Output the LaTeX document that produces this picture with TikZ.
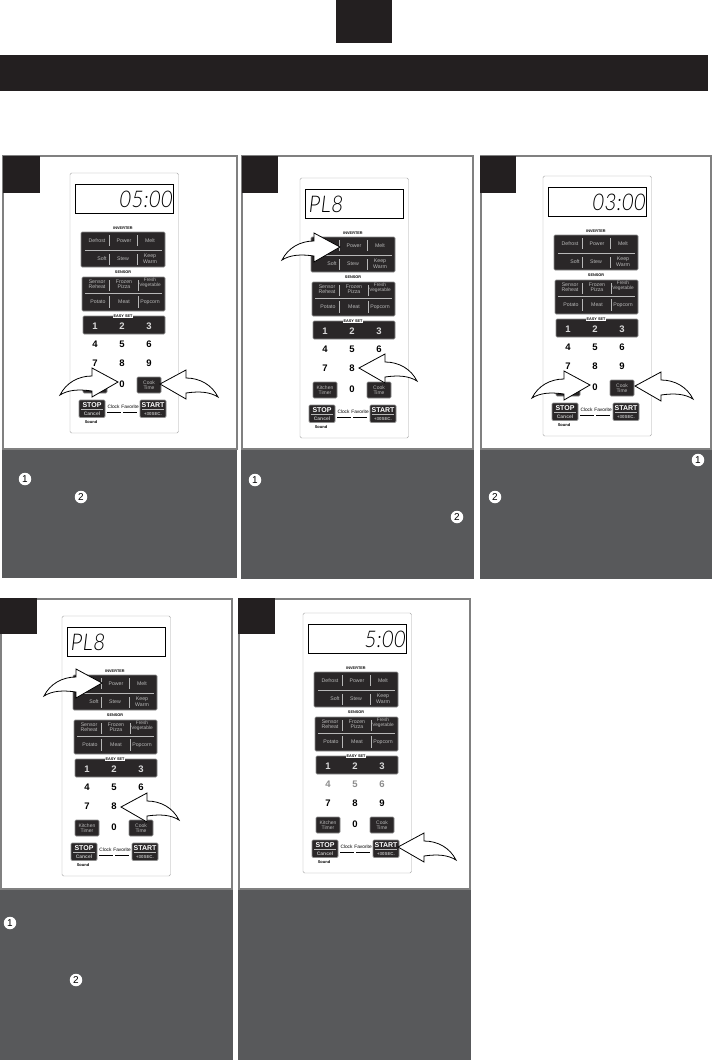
\documentclass[tikz,border=0pt]{standalone}
\usepackage{fontspec}
\setmainfont{Liberation Sans}
\newfontfamily\segfont[FakeStretch=0.85,FakeSlant=0.12,LetterSpace=3]{Lato Light}
\definecolor{ink}{HTML}{231F20}
\definecolor{panelgrey}{HTML}{58595B}
\definecolor{framegrey}{HTML}{808080}
\definecolor{btn}{HTML}{2A2728}
\definecolor{btntext}{HTML}{B8B8B8}
\tikzset{
  frame/.style={draw=framegrey,line width=2pt,fill=white},
  greybox/.style={fill=panelgrey,draw=none},
  blackbox/.style={fill=ink,draw=none},
  body/.style={draw=black!35,line width=.4pt,fill=white,rounded corners=1.5pt},
  screen/.style={draw=black,line width=.8pt,fill=white},
  keys/.style={fill=btn,draw=black!45,line width=.7pt,rounded corners=1.2pt},
  keytext/.style={text=btntext,font=\fontsize{5.2}{4.6}\selectfont,align=center,inner sep=0pt},
  keysep/.style={draw=btntext,line width=.5pt},
  tinylabel/.style={text=black,font=\fontsize{3.8}{4}\bfseries\selectfont,inner sep=0pt},
  padnum/.style={text=black,font=\fontsize{9.5}{10}\bfseries\selectfont,inner sep=0pt},
  whitenum/.style={text=white!85!black,font=\fontsize{9.5}{10}\bfseries\selectfont,inner sep=0pt},
  bigarrow/.style={draw=black,line width=.8pt,fill=white,line join=miter},
  badge/.style={circle,fill=white,draw=none,inner sep=0pt,minimum size=12.5pt,text=black,font=\fontsize{10}{10}\selectfont},
}
% prefix, x, y, display anchor, display x, display text, colour of 4 5 6
\newcommand{\ovenpanel}[7]{%
\begin{scope}[shift={(#2,#3)}]
  \draw[body] (0,0) rectangle (108.5,260);
  \draw[screen] (5,11) rectangle (103,40);
  \node[anchor=#4,inner sep=0pt,font=\fontsize{23}{23}\segfont\selectfont] (#1disp) at (#5,26) {#6};
  \node[tinylabel] (#1inv) at (53,55) {INVERTER};
  \draw[keys] (11,59) rectangle (95,94);
  \draw[keysep,line width=1pt] (15,77) -- (92,77);
  \foreach \xx in {39,67} {\draw[keysep] (\xx,62) -- (\xx,73); \draw[keysep] (\xx,81) -- (\xx,92);}
  \node[keytext] (#1defrost) at (27,68) {Defrost};
  \node[keytext] (#1power) at (54,68) {Power};
  \node[keytext] (#1melt) at (80,68) {Melt};
  \node[keytext] (#1soft) at (32,86) {Soft};
  \node[keytext] (#1stew) at (53,86) {Stew};
  \node[keytext] (#1keep) at (80,86) {Keep\\Warm};
  \node[tinylabel] (#1sen) at (53,99) {SENSOR};
  \draw[keys] (12,104) rectangle (95,138);
  \draw[keysep,line width=.4pt] (15,120) -- (92,120);
  \foreach \xx in {39,68} {\draw[keysep] (\xx,107) -- (\xx,118); \draw[keysep] (\xx,123) -- (\xx,135);}
  \node[keytext] (#1reheat) at (27,111) {Sensor\\Reheat};
  \node[keytext] (#1pizza) at (54,111) {Frozen\\Pizza};
  \node[keytext,font=\fontsize{4.8}{4.6}\selectfont] (#1veg) at (80,110) {Fresh\\Vegetable};
  \node[keytext] (#1potato) at (28,129) {Potato};
  \node[keytext] (#1meat) at (54,129) {Meat};
  \node[keytext] (#1popcorn) at (80,129) {Popcorn};
  \draw[keys] (13,143) rectangle (95,161);
  \node[tinylabel,fill=white,inner xsep=1pt,inner ysep=.3pt] (#1easy) at (53,143) {EASY SET};
  \node[whitenum] (#1n1) at (25,153) {1};
  \node[whitenum] (#1n2) at (52,153) {2};
  \node[whitenum] (#1n3) at (79,153) {3};
  \node[padnum,text=#7] (#1n4) at (25,171) {4};
  \node[padnum,text=#7] (#1n5) at (52,171) {5};
  \node[padnum,text=#7] (#1n6) at (79,171) {6};
  \node[padnum] (#1n7) at (25,190) {7};
  \node[padnum] (#1n8) at (52,190) {8};
  \node[padnum] (#1n9) at (79,190) {9};
  \node[padnum] (#1n0) at (52,211) {0};
  \draw[keys] (13,204) rectangle (37,220);
  \node[keytext,font=\fontsize{5}{5}\selectfont] (#1kt) at (25,212) {Kitchen\\Timer};
  \draw[keys] (67,204) rectangle (91,220);
  \node[keytext,font=\fontsize{5}{5}\selectfont] (#1ct) at (79,212) {Cook\\Time};
  \draw[keys] (9,227) rectangle (35,244.5);
  \node[keytext,font=\fontsize{7}{7}\bfseries\selectfont,text=white] (#1stop) at (22,232) {STOP};
  \draw[keysep] (11,236) -- (33,236);
  \node[keytext,font=\fontsize{5}{5}\bfseries\selectfont] (#1cancel) at (22,240.5) {Cancel};
  \draw[keys] (70,227) rectangle (96,244.5);
  \node[keytext,font=\fontsize{7}{7}\bfseries\selectfont,text=white] (#1start) at (83,232) {START};
  \draw[keysep] (72,236) -- (94,236);
  \node[keytext,font=\fontsize{4.4}{4.4}\bfseries\selectfont] (#1sec) at (83,240.5) {+30SEC.};
  \node[inner sep=0pt,font=\fontsize{4.8}{5}\selectfont] (#1clock) at (43.5,234) {Clock};
  \node[inner sep=0pt,font=\fontsize{4.8}{5}\selectfont] (#1fav) at (60,234) {Favorite};
  \draw[black,line width=.6pt] (37,239) -- (50.5,239) (53,239) -- (67,239);
  \node[inner sep=0pt,font=\fontsize{4}{4}\bfseries\selectfont] (#1sound) at (21,249) {Sound};
\end{scope}}
% tip x, tip y, xscale (+1 points right, -1 points left)
\newcommand{\curvearrow}[3]{%
  \draw[bigarrow,shift={(#1,#2)},xscale=#3]
    (0,0) -- (-26,-14) -- (-26,-6)
    .. controls (-40,-6) and (-52,1) .. (-58,13)
    .. controls (-50,8) and (-40,7) .. (-26,9)
    -- (-26,15) -- cycle;}
\begin{document}
\begin{tikzpicture}[x=1pt,y=-1pt]
\useasboundingbox (0,0) rectangle (712,1060);
\fill[white] (0,0) rectangle (712,1060);
% header
\fill[blackbox] (335.5,0) rectangle (392,43);
\fill[blackbox] (0,55) rectangle (708,91);
% frames
\draw[frame] (3,156) rectangle (237,449);
\draw[frame] (242,156) rectangle (473,449);
\draw[frame] (480.5,156) rectangle (711,449);
\draw[frame] (0.5,598.5) rectangle (232,889);
\draw[frame] (239,598.5) rectangle (470,889);
% text panels
\fill[greybox] (2,449.5) rectangle (236.5,578);
\fill[greybox] (241,449.5) rectangle (474,579);
\fill[greybox] (479.5,449.5) rectangle (712,579);
\fill[greybox] (0,889.5) rectangle (233,1060);
\fill[greybox] (238,889.5) rectangle (471,1060);
% step tabs
\fill[blackbox] (3,156) rectangle (40,193);
\fill[blackbox] (241.5,156) rectangle (278,193);
\fill[blackbox] (480,156) rectangle (516,193);
\fill[blackbox] (0,598) rectangle (37,634);
\fill[blackbox] (238,598) rectangle (275,634);
% ovens
\ovenpanel{a}{70}{173}{east}{102}{05:00}{black}
\ovenpanel{b}{300}{178}{west}{8}{PL8}{black}
\ovenpanel{c}{543}{176}{east}{102}{03:00}{black}
\ovenpanel{d}{62}{616}{west}{8}{PL8}{black}
\ovenpanel{e}{303}{613}{east}{102}{5:00}{black!45}
% arrows
\curvearrow{118}{382}{1}
\curvearrow{160}{384}{-1}
\curvearrow{340}{247}{1}
\curvearrow{359}{368}{-1}
\curvearrow{590}{385}{1}
\curvearrow{635}{386}{-1}
\curvearrow{102}{683}{1}
\curvearrow{121}{807}{-1}
\curvearrow{398}{847}{-1}
% numbered marks
\node[badge] (a1) at (25,479) {1};
\node[badge] (a2) at (81,497) {2};
\node[badge] (b1) at (255,480) {1};
\node[badge] (b2) at (457,517) {2};
\node[badge] (c1) at (698,460) {1};
\node[badge] (c2) at (495,497) {2};
\node[badge] (d1) at (10,923) {1};
\node[badge] (d2) at (76,980) {2};
\end{tikzpicture}
\end{document}
